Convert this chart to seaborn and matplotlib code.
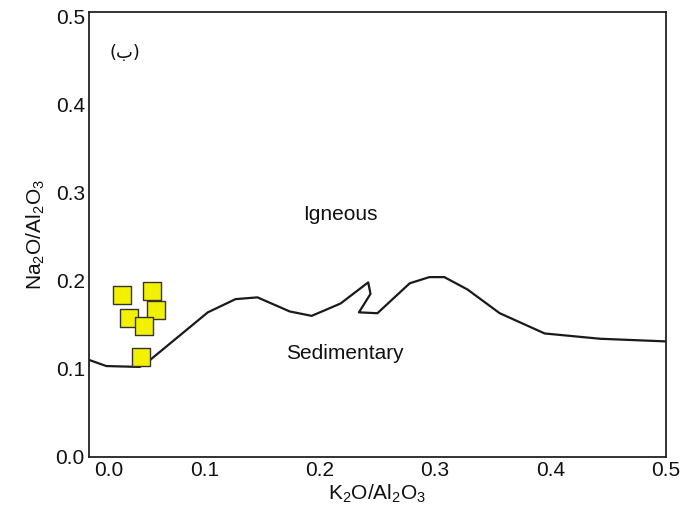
import matplotlib
matplotlib.use('Agg')
import matplotlib.pyplot as plt
import matplotlib.transforms as mtrans
import seaborn as sns
import pandas as pd

# boundary line between igneous and sedimentary fields
boundary_k = [0.000, 0.015, 0.044, 0.053, 0.103, 0.127, 0.146, 0.174, 0.193, 0.218,
              0.242, 0.244, 0.234, 0.250, 0.278, 0.295, 0.308, 0.328, 0.356, 0.395,
              0.443, 0.500]
boundary_na = [0.110, 0.103, 0.102, 0.110, 0.164, 0.179, 0.181, 0.165, 0.160, 0.174,
               0.198, 0.185, 0.164, 0.163, 0.197, 0.204, 0.204, 0.190, 0.163, 0.140,
               0.134, 0.131]

# samples
sample_k = [0.029, 0.055, 0.035, 0.058, 0.048, 0.045]
sample_na = [0.184, 0.188, 0.158, 0.167, 0.148, 0.113]

ticks = [0.0, 0.1, 0.2, 0.3, 0.4, 0.5]

sns.set_style('white')
plt.rcParams['font.family'] = ['Liberation Sans', 'DejaVu Sans']
plt.rcParams['mathtext.default'] = 'regular'

line_df = pd.DataFrame({'k': boundary_k, 'na': boundary_na})
pts_df = pd.DataFrame({'k': sample_k, 'na': sample_na})

fig = plt.figure(figsize=(6.9, 5.25), dpi=100)
ax = fig.add_axes([0.129, 0.13, 0.836, 0.847])

sns.lineplot(data=line_df, x='k', y='na', sort=False, estimator=None,
             color='#1a1a1a', linewidth=1.6, ax=ax)
sns.scatterplot(data=pts_df, x='k', y='na', marker='s', s=150,
                color='#f2f200', edgecolor='#333333', linewidth=1.0, ax=ax, zorder=3)

ax.text(0.218, 0.275, 'Igneous', fontsize=15, ha='center', va='center', color='#111111')
ax.text(0.222, 0.117, 'Sedimentary', fontsize=15, ha='center', va='center', color='#111111')
ax.text(0.031, 0.458, '(ب)', fontsize=13, ha='center', va='center',
        family=['DejaVu Sans'], color='#111111')

ax.set_xlim(0, 0.5)
ax.set_ylim(0, 0.505)
ax.set_xticks(ticks)
ax.set_yticks(ticks)
ax.set_xticklabels([f'{t:.1f}' for t in ticks])
ax.set_yticklabels([f'{t:.1f}' for t in ticks])
ax.tick_params(length=0, labelsize=15, pad=3, labelcolor='#111111')
ax.set_xlabel('K$_2$O/Al$_2$O$_3$', fontsize=15, labelpad=2, color='#111111')
ax.set_ylabel('Na$_2$O/Al$_2$O$_3$', fontsize=15, labelpad=6, color='#111111')

# nudge the first x label right so it clears the y "0.0"
first = ax.get_xticklabels()[0]
first.set_transform(first.get_transform() +
                    mtrans.ScaledTranslation(20 / 100, 0, fig.dpi_scale_trans))

for sp in ax.spines.values():
    sp.set_color('#222222')
    sp.set_linewidth(1.3)

fig.savefig('out.png', dpi=100)
